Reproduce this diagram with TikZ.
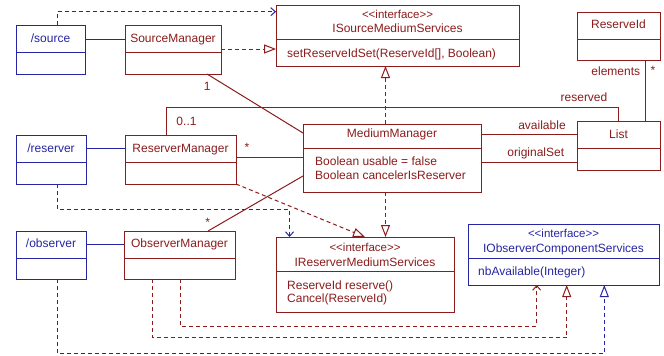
\documentclass[tikz,border=0pt]{standalone}
\usepackage{fontspec}
\setmainfont{Liberation Sans}
\usetikzlibrary{arrows.meta,calc}
\definecolor{umlred}{RGB}{140,28,28}
\definecolor{umlblue}{RGB}{38,38,165}
\tikzset{
  otri/.tip={Triangle[open,length=12pt,width=9pt]},
  depv/.tip={Straight Barb[length=4.5pt,width=8pt]},
  cls/.style={rectangle, inner sep=0pt, outer sep=0pt, line width=1pt},
  txt/.style={inner sep=0pt, anchor=base, font=\fontsize{12}{14}\selectfont},
  rtxt/.style={txt, text=umlred},
  btxt/.style={txt, text=umlblue},
  stereo/.style={font=\fontsize{11.5}{13}\selectfont},
  rline/.style={draw=umlred, line width=1pt},
  bline/.style={draw=umlblue, line width=1pt},
  rdash/.style={rline, dash pattern=on 4pt off 3pt},
  bdash/.style={bline, dash pattern=on 4pt off 3pt}
}
\newcommand\umlcls[7]{%
  \node[cls, draw=#2, minimum width={(#5-#3)*1pt}, minimum height={(#6-#4)*1pt}] (#1) at ({(#3+#5)/2},{(#4+#6)/2}) {};
  \draw[draw=#2, line width=1pt] (#1.west |- 0,#7) -- (#1.east |- 0,#7);
}
\begin{document}
\begin{tikzpicture}[x=1pt,y=-1pt]
\useasboundingbox (0,0) rectangle (664,356);
\fill[white] (0,0) rectangle (664,356);

\umlcls{src}{umlblue}{16}{25}{85}{74}{52.3}
\umlcls{sm}{umlred}{125}{25}{221}{74}{52.5}
\umlcls{ism}{umlred}{276}{5}{519}{66}{39.3}
\umlcls{rid}{umlred}{577}{12}{660}{60}{39.3}
\umlcls{lst}{umlred}{577}{121}{660}{170}{148.7}
\umlcls{mm}{umlred}{303}{124}{481}{192}{148.3}
\umlcls{rsv}{umlblue}{16}{135}{86}{184}{162}
\umlcls{rm}{umlred}{125}{135}{236}{184}{162}
\umlcls{obs}{umlblue}{16}{231}{86}{279}{258.3}
\umlcls{om}{umlred}{124}{231}{235}{279}{258.3}
\umlcls{irm}{umlred}{276}{237}{454}{312}{271.7}
\umlcls{ioc}{umlblue}{468}{224}{659}{285}{258.3}

\node[btxt] (srcT) at (50.5,42.5) {/source};
\node[rtxt] (smT) at (173,42.5) {SourceManager};
\node[rtxt,stereo] (ismS) at (397.5,18.3) {<{}<interface>{}>};
\node[rtxt] (ismN) at (397.5,32.3) {ISourceMediumServices};
\node[rtxt,anchor=base west] (ismM) at (287,57.3) {setReserveIdSet(ReserveId[], Boolean)};
\node[rtxt] (ridT) at (618.5,28.3) {ReserveId};
\node[rtxt] (lstT) at (618.5,138) {List};
\node[rtxt] (mmT) at (392,137.4) {MediumManager};
\node[rtxt,anchor=base west] (mmA1) at (315,165.5) {Boolean usable = false};
\node[rtxt,anchor=base west] (mmA2) at (315,179.3) {Boolean cancelerIsReserver};
\node[btxt] (rsvT) at (51,152.8) {/reserver};
\node[rtxt] (rmT) at (180.5,152.8) {ReserverManager};
\node[btxt] (obsT) at (51,247.5) {/observer};
\node[rtxt] (omT) at (179.5,247.5) {ObserverManager};
\node[rtxt,stereo] (irmS) at (365,251.5) {<{}<interface>{}>};
\node[rtxt] (irmN) at (365,266) {IReserverMediumServices};
\node[rtxt,anchor=base west] (irmM1) at (287,289) {ReserveId reserve()};
\node[rtxt,anchor=base west] (irmM2) at (287,302) {Cancel(ReserveId)};
\node[btxt,stereo] (iocS) at (563.5,237.5) {<{}<interface>{}>};
\node[btxt] (iocN) at (563.5,252) {IObserverComponentServices};
\node[btxt,anchor=base west] (iocM) at (478,275.5) {nbAvailable(Integer)};

\node[rtxt] (l01) at (186.5,125) {0..1};
\node[rtxt] (l1) at (207.3,90) {1};
\node[rtxt] (lrs) at (247,151) {*};
\node[rtxt] (los) at (207.7,226.6) {*};
\node[rtxt] (lres) at (584,101.7) {reserved};
\node[rtxt] (lav) at (542,129.7) {available};
\node[rtxt] (lorig) at (535.8,156) {originalSet};
\node[rtxt] (lel) at (615.8,75) {elements};
\node[rtxt] (lels) at (653,74.6) {*};

\draw[bline] ($(src.north east)+(0,14)$) -- ($(sm.north west)+(0,14)$);
\draw[bline] ($(rsv.north east)+(0,13.7)$) -- ($(rm.north west)+(0,13.7)$);
\draw[bline] ($(obs.north east)+(0,13)$) -- ($(om.north west)+(0,13)$);
\draw[bdash,-depv] ($(src.north west)+(41,0)$) |- ($(ism.north west)+(0,6.7)$);
\draw[rdash,-otri] ($(sm.north east)+(0,24)$) -- ($(ism.north west)+(0,44)$);
\draw[rdash,-otri] ($(mm.north west)+(82.5,0)$) -- ($(ism.south west)+(109.5,0)$);
\draw[rline] ($(sm.south west)+(82,0)$) -- ($(mm.north west)+(0,9)$);
\draw[rline] ($(rm.north west)+(41.7,0)$) |- ($(lst.north west)+(41,-13.5)$) -- ($(lst.north west)+(41,0)$);
\draw[rline] ($(rm.north east)+(0,22)$) -- ($(mm.north west)+(0,33)$);
\draw[rline] ($(om.north west)+(84,0)$) -- ($(mm.north west)+(0,52)$);
\draw[rline] ($(mm.north east)+(0,10.5)$) -- ($(lst.north west)+(0,13.5)$);
\draw[rline] ($(mm.north east)+(0,38)$) -- ($(lst.north west)+(0,41)$);
\draw[rline] ($(rid.south west)+(68.7,0)$) -- ($(lst.north west)+(68.7,0)$);
\draw[bdash,-depv] ($(rsv.south west)+(41,0)$) |- ($(irm.north west)+(13.5,-27.7)$) -- ($(irm.north west)+(13.5,0)$);
\draw[rdash,-otri] (rm.south east) -- ($(irm.north west)+(89,0)$);
\draw[rdash,-otri] ($(mm.south west)+(82.5,0)$) -- ($(irm.north west)+(109.5,0)$);
\draw[rdash,-depv] ($(om.south west)+(56.3,0)$) |- ($(ioc.south west)+(68.7,41)$) -- ($(ioc.south west)+(68.7,0)$);
\draw[rdash,-otri] ($(om.south west)+(28.3,0)$) |- ($(ioc.south west)+(98.7,52.7)$) -- ($(ioc.south west)+(98.7,0)$);
\draw[bdash,-otri] ($(obs.south west)+(41.3,0)$) |- ($(ioc.south west)+(136.3,68.3)$) -- ($(ioc.south west)+(136.3,0)$);
\end{tikzpicture}
\end{document}
